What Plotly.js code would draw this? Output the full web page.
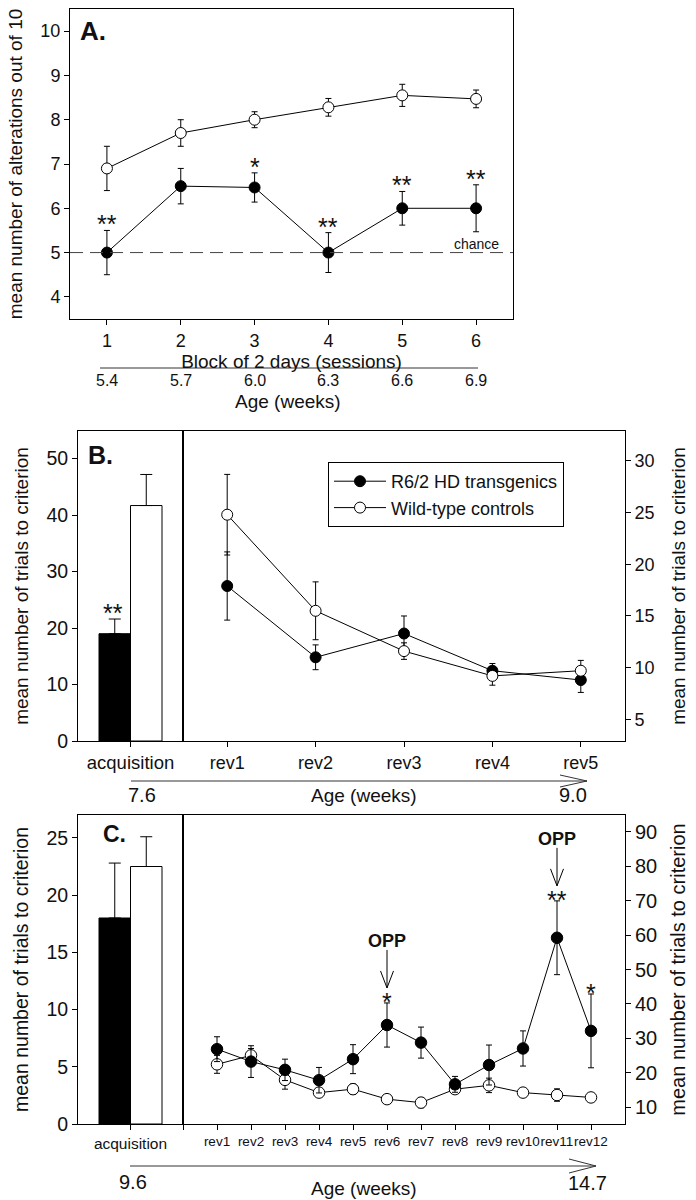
<!DOCTYPE html>
<html><head><meta charset="utf-8">
<script src="https://cdn.plot.ly/plotly-3.0.1.min.js"></script>
<style>html,body{margin:0;padding:0;background:#fff}#chart{width:696px;height:1200px}</style>
</head><body><div id="chart"></div>
<script>
// ---------- Panel A data ----------
const blocks = [1, 2, 3, 4, 5, 6];
const ageA = ['5.4', '5.7', '6.0', '6.3', '6.6', '6.9'];
const hdA = [5.0, 6.5, 6.47, 5.0, 6.0, 6.0];
const hdAerr = [0.5, 0.4, 0.33, 0.45, 0.38, 0.53];
const wtA = [6.9, 7.7, 8.0, 8.28, 8.55, 8.47];
const wtAerr = [0.5, 0.3, 0.18, 0.2, 0.25, 0.2];
const sigA = ['**', '', '*', '**', '**', '**'];
const chance = 5;

// ---------- Panel B data ----------
const acqLabel = ['acquisition'];
const hdAcqB = [19.0], hdAcqBerr = [2.6];
const wtAcqB = [41.7], wtAcqBerr = [5.5];
const sigAcqB = ['**'];
const revB = ['rev1', 'rev2', 'rev3', 'rev4', 'rev5'];
const hdRevB = [17.9, 11.0, 13.3, 9.7, 8.8];
const hdRevBerr = [3.3, 1.2, 1.7, 0.7, 1.2];
const wtRevB = [24.8, 15.5, 11.6, 9.2, 9.7];
const wtRevBerr = [3.9, 2.8, 0.8, 0.9, 1.0];
const ageB = ['7.6', '9.0'];

// ---------- Panel C data ----------
const hdAcqC = [18.0], hdAcqCerr = [4.8];
const wtAcqC = [22.5], wtAcqCerr = [2.6];
const revC = ['rev1','rev2','rev3','rev4','rev5','rev6','rev7','rev8','rev9','rev10','rev11','rev12'];
const hdRevC = [26.9, 23.3, 20.9, 17.9, 24.0, 33.9, 28.8, 16.7, 22.3, 27.1, 59.2, 32.2];
const hdRevCerr = [3.6, 4.6, 3.1, 3.7, 4.2, 6.4, 4.5, 2.3, 5.8, 5.1, 10.7, 10.7];
const wtRevC = [22.5, 25.1, 18.0, 14.3, 15.3, 12.4, 11.4, 15.3, 16.4, 14.3, 13.6, 12.9];
const wtRevCerr = [2.6, 2.0, 2.7, 1.0, 1.5, 0.5, 1.5, 1.0, 2.1, 0.5, 1.8, 0.5];
const sigRevC = ['', '', '', '', '', '*', '', '', '', '', '**', '*'];
const oppC = ['', '', '', '', '', 'OPP', '', '', '', '', 'OPP', ''];
const ageC = ['9.6', '14.7'];

const seriesNames = ['R6/2 HD transgenics', 'Wild-type controls'];

// ---------- layout helpers ----------
const W = 696, H = 1200;
const X = v => v / W, Y = v => 1 - v / H;
const FONT = 'Liberation Sans, Arial, sans-serif';
const K = '#000';
const TXT = '#111';

const idxB = revB.map((_, i) => i + 1);
const idxC = revC.map((_, i) => i + 1);

function lineTrace(x, y, err, filled, xa, ya, name, showlegend, msize) {
  return {
    type: 'scatter', mode: 'lines+markers', x: x, y: y, xaxis: xa, yaxis: ya,
    name: name, showlegend: showlegend, cliponaxis: false,
    line: {color: K, width: 1},
    marker: {size: msize, color: filled ? K : '#fff', line: {color: K, width: 1}},
    error_y: {type: 'data', array: err, visible: true, color: K, thickness: 1, width: 3}
  };
}
function barTrace(x, y, err, filled, xa, ya) {
  return {
    type: 'bar', x: x, y: y, xaxis: xa, yaxis: ya, showlegend: false,
    marker: {color: filled ? K : '#fff', line: {color: K, width: 1}},
    error_y: {type: 'data', symmetric: false, array: err, arrayminus: err.map(() => 0),
              visible: true, color: K, thickness: 1, width: 6}
  };
}

const data = [
  // A
  lineTrace(blocks, wtA, wtAerr, false, 'x', 'y', seriesNames[1], false, 11),
  lineTrace(blocks, hdA, hdAerr, true, 'x', 'y', seriesNames[0], false, 11),
  // B
  barTrace(acqLabel, hdAcqB, hdAcqBerr, true, 'x2', 'y2'),
  barTrace(acqLabel, wtAcqB, wtAcqBerr, false, 'x2', 'y2'),
  lineTrace(idxB, hdRevB, hdRevBerr, true, 'x3', 'y3', seriesNames[0], true, 11),
  lineTrace(idxB, wtRevB, wtRevBerr, false, 'x3', 'y3', seriesNames[1], true, 11),
  // C
  barTrace(acqLabel, hdAcqC, hdAcqCerr, true, 'x4', 'y4'),
  barTrace(acqLabel, wtAcqC, wtAcqCerr, false, 'x4', 'y4'),
  lineTrace(idxC, wtRevC, wtRevCerr, false, 'x5', 'y5', seriesNames[1], false, 11.5),
  lineTrace(idxC, hdRevC, hdRevCerr, true, 'x5', 'y5', seriesNames[0], false, 11.5)
];

const axBase = {
  showline: true, linecolor: K, linewidth: 1, mirror: true,
  ticks: 'outside', ticklen: 5, tickwidth: 1, tickcolor: K,
  showgrid: false, zeroline: false, automargin: false, fixedrange: true,
  tickfont: {family: FONT, size: 18, color: TXT}
};
const tfont = s => ({family: FONT, size: s, color: TXT});

const yA = [Y(319), Y(9)];
const yB = [Y(741), Y(431)];
const yC = [Y(1124), Y(815)];
const xL = [X(78), X(183)];
const xR = [X(183), X(625)];

const layout = {
  width: W, height: H,
  margin: {l: 0, r: 0, t: 0, b: 0},
  paper_bgcolor: '#fff', plot_bgcolor: 'rgba(0,0,0,0)',
  font: {family: FONT, color: TXT},
  barmode: 'group', bargap: 0.4, bargroupgap: 0,
  showlegend: true,
  legend: {
    x: X(328), y: Y(462), xanchor: 'left', yanchor: 'top',
    bgcolor: '#fff', bordercolor: K, borderwidth: 1,
    font: tfont(18), itemwidth: 52, tracegroupgap: 0
  },
  xaxis: Object.assign({}, axBase, {
    domain: [X(70), X(513)], anchor: 'y', range: [0.5, 6.5],
    tickvals: blocks, ticktext: blocks.map(String),
    title: {text: 'Block of 2 days (sessions)', font: tfont(19), standoff: 0}
  }),
  yaxis: Object.assign({}, axBase, {
    domain: yA, anchor: 'x', range: [3.5, 10.5], dtick: 1,
    title: {text: 'mean number of alterations out of 10', font: tfont(19), standoff: 12}
  }),
  xaxis2: Object.assign({}, axBase, {
    domain: xL, anchor: 'y2', type: 'category', range: [-0.5, 0.5],
    tickfont: tfont(18.5)
  }),
  yaxis2: Object.assign({}, axBase, {
    domain: yB, anchor: 'x2', range: [0, 54.9], dtick: 10,
    tickfont: tfont(19.5),
    title: {text: 'mean number of trials to criterion', font: tfont(19), standoff: 12}
  }),
  xaxis3: Object.assign({}, axBase, {
    domain: xR, anchor: 'y3', range: [0.5, 5.5],
    tickvals: idxB, ticktext: revB, tickangle: 0
  }),
  yaxis3: Object.assign({}, axBase, {
    domain: yB, anchor: 'x3', side: 'right', range: [2.9, 32.9], dtick: 5,
    title: {text: 'mean number of trials to criterion', font: tfont(19), standoff: 18}
  }),
  xaxis4: Object.assign({}, axBase, {
    domain: xL, anchor: 'y4', type: 'category', range: [-0.5, 0.5],
    tickfont: tfont(15.5)
  }),
  yaxis4: Object.assign({}, axBase, {
    domain: yC, anchor: 'x4', range: [0, 27], dtick: 5,
    tickfont: tfont(19.5),
    title: {text: 'mean number of trials to criterion', font: tfont(19.5), standoff: 12}
  }),
  xaxis5: Object.assign({}, axBase, {
    domain: xR, anchor: 'y5', range: [0, 13],
    tickvals: [0].concat(idxC), ticktext: [''].concat(revC), tickangle: 0,
    tickfont: tfont(13.5)
  }),
  yaxis5: Object.assign({}, axBase, {
    domain: yC, anchor: 'x5', side: 'right', range: [5.2, 94.8], dtick: 10, tick0: 0,
    tickfont: tfont(20),
    title: {text: 'mean number of trials to criterion', font: tfont(20), standoff: 14}
  })
};

const ann = [];
const shapes = [];
// text placed at an exact centre (paper coordinates)
function label(text, x, y, size, extra) {
  ann.push(Object.assign({text: text, xref: 'paper', yref: 'paper', x: X(x), y: Y(y),
    xanchor: 'center', yanchor: 'middle', showarrow: false, font: tfont(size)}, extra || {}));
}

// panel letters
label('<b>A.</b>', 93, 31, 26);
label('<b>B.</b>', 100, 455, 25);
label('<b>C.</b>', 114, 834, 23);

// Panel A: chance line and label
shapes.push({type: 'line', xref: 'x domain', yref: 'y', x0: 0, x1: 1, y0: chance, y1: chance,
  line: {color: '#444', width: 1, dash: '13px,7px'}});
ann.push({text: 'chance', xref: 'x', yref: 'y', x: blocks[5], y: chance, xanchor: 'center', yanchor: 'bottom', yshift: -1,
  showarrow: false, font: tfont(14)});

// Panel A significance
sigA.forEach((s, i) => {
  if (!s) return;
  ann.push({text: s, xref: 'x', yref: 'y', x: blocks[i], y: hdA[i] + hdAerr[i], xanchor: 'center', yanchor: 'bottom',
    yshift: -10, showarrow: false, font: tfont(25)});
});

// Panel A age row
shapes.push({type: 'line', xref: 'paper', yref: 'paper', x0: X(100), x1: X(478), y0: Y(368), y1: Y(368),
  line: {color: '#333', width: 1}});
ageA.forEach((a, i) => {
  ann.push({text: a, xref: 'x', yref: 'paper', x: blocks[i], y: Y(380), xanchor: 'center', yanchor: 'middle',
    showarrow: false, font: tfont(16)});
});
label('Age (weeks)', 288, 401, 19);

// Panel B significance on acquisition bar
ann.push({text: sigAcqB[0], xref: 'paper', yref: 'y2', x: X(113), y: hdAcqB[0] + hdAcqBerr[0],
  xanchor: 'center', yanchor: 'bottom', yshift: -10, showarrow: false, font: tfont(25)});

// Age arrows under B and C
function ageArrow(x0, x1, y, hx, hh) {
  shapes.push({type: 'path', xref: 'paper', yref: 'paper',
    path: `M${X(x0)},${Y(y)} L${X(x1)},${Y(y)} M${X(hx)},${Y(y - hh)} L${X(x1)},${Y(y)} L${X(hx)},${Y(y + hh)}`,
    line: {color: '#333', width: 1}});
}
ageArrow(131, 587, 781, 560, 6);
label(ageB[0], 142, 795, 20);
label(ageB[1], 573, 795, 20);
label('Age (weeks)', 364, 795, 19);

// Panel C significance, OPP arrows
revC.forEach((r, i) => {
  const top = hdRevC[i] + hdRevCerr[i];
  if (sigRevC[i]) {
    ann.push({text: sigRevC[i], xref: 'x5', yref: 'y5', x: idxC[i], y: top, xanchor: 'center', yanchor: 'bottom',
      yshift: -15, showarrow: false, font: tfont(25)});
  }
  if (oppC[i]) {
    ann.push({text: '<b>' + oppC[i] + '</b>', xref: 'x5', yref: 'y5', x: idxC[i], y: top,
      xanchor: 'center', yanchor: 'middle', yshift: 62, showarrow: false, font: tfont(18)});
    shapes.push({type: 'path', xref: 'x5', yref: 'y5', xsizemode: 'pixel', ysizemode: 'pixel',
      xanchor: idxC[i], yanchor: top,
      path: 'M0,15 L0,53 M-6.5,32 L0,15 L6.5,32',
      line: {color: K, width: 1}});
  }
});

ageArrow(130, 596, 1166, 569, 7);
label(ageC[0], 133, 1182, 20);
label(ageC[1], 587, 1183, 20);
label('Age (weeks)', 364, 1188, 19);

layout.annotations = ann;
layout.shapes = shapes;

Plotly.newPlot('chart', data, layout, {displayModeBar: false, staticPlot: true});
</script>
</body></html>
